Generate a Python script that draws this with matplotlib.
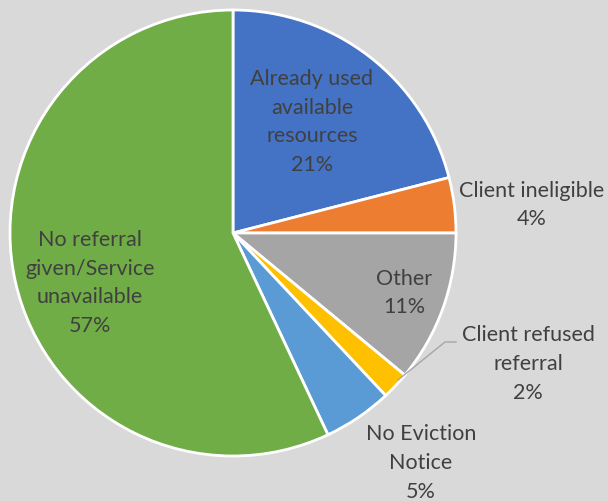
import matplotlib
matplotlib.use("Agg")
import matplotlib.pyplot as plt

categories = ["Already used\navailable\nresources", "Client ineligible", "Other",
              "Client refused\nreferral", "No Eviction\nNotice",
              "No referral\ngiven/Service\nunavailable"]
values = [21, 4, 11, 2, 5, 57]
colors = ["#4472C4", "#ED7D31", "#A5A5A5", "#FFC000", "#5B9BD5", "#70AD47"]

W, H = 608, 501
fig = plt.figure(figsize=(W / 100, H / 100), dpi=100)
fig.patch.set_facecolor("#D9D9D9")
ax = fig.add_axes([0, 0, 1, 1])
ax.set_facecolor("#D9D9D9")

cx, cy, r = 233, H - 233, 223
ax.pie(values, colors=colors, startangle=90, counterclock=False,
       center=(cx, cy), radius=r, frame=True,
       wedgeprops=dict(edgecolor="white", linewidth=2))
ax.set_xlim(0, W)
ax.set_ylim(0, H)
ax.set_aspect("equal")
ax.axis("off")

# label positions (pixel coords from top)
label_pos = [(312, 122), (532, 205), (404, 293), (528, 364), (421, 463), (90, 283)]
font = dict(family=["Lato", "DejaVu Sans"], fontsize=15.5, color="#404040")
for cat, v, (x, y) in zip(categories, values, label_pos):
    ax.text(x, H - y, f"{cat}\n{v}%", ha="center", va="center",
            linespacing=1.55, **font)

# leader line for small slice
ax.plot([398, 445, 456], [H - 380, H - 342, H - 342], color="#A6A6A6", lw=1)

fig.savefig("out.png", dpi=100, facecolor=fig.get_facecolor())
